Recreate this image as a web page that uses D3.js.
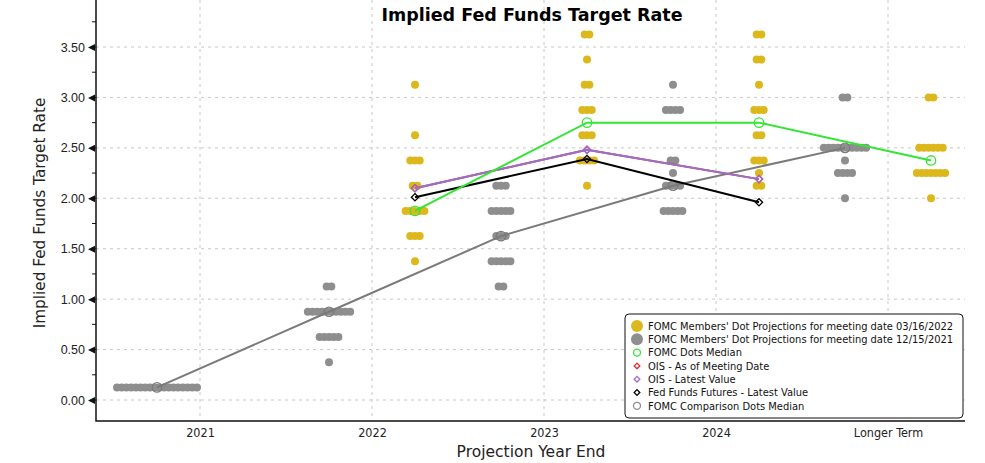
<!DOCTYPE html>
<html>
<head>
<meta charset="utf-8">
<script src="https://cdn.jsdelivr.net/npm/d3@7"></script>
<style>
  body { margin: 0; background: #fff; }
  svg { display: block; }
</style>
</head>
<body>
<div id="chart"></div>
<script>
// projection horizons on the x axis
const categories = ["2021", "2022", "2023", "2024", "Longer Term"];
const yTicks = [0, 0.5, 1, 1.5, 2, 2.5, 3, 3.5];

// dot plot rows: [horizon, rate, number of participants]
const marchDots = [
  ["2022", 3.125, 1], ["2022", 2.625, 1], ["2022", 2.375, 3], ["2022", 2.125, 2],
  ["2022", 1.875, 5], ["2022", 1.625, 3], ["2022", 1.375, 1],
  ["2023", 3.625, 2], ["2023", 3.375, 1], ["2023", 3.125, 2], ["2023", 2.875, 3],
  ["2023", 2.625, 3], ["2023", 2.375, 4], ["2023", 2.125, 1],
  ["2024", 3.625, 2], ["2024", 3.375, 2], ["2024", 3.125, 1], ["2024", 2.875, 3],
  ["2024", 2.625, 2], ["2024", 2.375, 3], ["2024", 2.25, 1], ["2024", 2.125, 2],
  ["Longer Term", 3.0, 2], ["Longer Term", 2.5, 6], ["Longer Term", 2.25, 7], ["Longer Term", 2.0, 1]
];
const decemberDots = [
  ["2021", 0.125, 18],
  ["2022", 1.125, 2], ["2022", 0.875, 10], ["2022", 0.625, 5], ["2022", 0.375, 1],
  ["2023", 2.125, 3], ["2023", 1.875, 5], ["2023", 1.625, 3], ["2023", 1.375, 5], ["2023", 1.125, 2],
  ["2024", 3.125, 1], ["2024", 2.875, 4], ["2024", 2.375, 2], ["2024", 2.25, 1],
  ["2024", 2.125, 4], ["2024", 1.875, 5],
  ["Longer Term", 3.0, 2], ["Longer Term", 2.5, 10], ["Longer Term", 2.375, 1],
  ["Longer Term", 2.25, 4], ["Longer Term", 2.0, 1]
];

// line series
const medianCats = ["2022", "2023", "2024", "Longer Term"];
const medianMarch = [1.875, 2.75, 2.75, 2.375];
const comparisonCats = ["2021", "2022", "2023", "2024", "Longer Term"];
const medianDecember = [0.125, 0.875, 1.625, 2.125, 2.5];
const marketCats = ["2022", "2023", "2024"];
const oisMeeting = [2.10, 2.48, 2.19];
const oisLatest = [2.10, 2.48, 2.19];
const futuresLatest = [2.01, 2.39, 1.96];

const legendLabels = [
  "FOMC Members' Dot Projections for meeting date 03/16/2022",
  "FOMC Members' Dot Projections for meeting date 12/15/2021",
  "FOMC Dots Median",
  "OIS - As of Meeting Date",
  "OIS - Latest Value",
  "Fed Funds Futures - Latest Value",
  "FOMC Comparison Dots Median"
];

const W = 985, H = 463;
const left = 96, right = 965, bottom = 421;
const yellow = "#dcb81c", gray = "#8e8e8e", green = "#33e633",
      purple = "#9a6fcc", red = "#d93030";

const svg = d3.select("#chart").append("svg")
    .attr("width", W).attr("height", H)
    .style("font-family", "'DejaVu Sans', sans-serif");

let x = d3.scalePoint().domain(categories).range([200, 888]);
let shift = x.step() * 0.25;
let y = d3.scaleLinear().domain([0, 3.5]).range([400, 47]);

// grid
let grid = svg.append("g").attr("stroke", "#c8c8c8").attr("stroke-dasharray", "3,4");
grid.selectAll("line.h").data(yTicks).join("line")
    .attr("x1", left).attr("x2", right)
    .attr("y1", d => y(d)).attr("y2", d => y(d));
grid.selectAll("line.v").data(categories).join("line")
    .attr("x1", d => x(d)).attr("x2", d => x(d))
    .attr("y1", 0).attr("y2", bottom);

// y axis
let yAxis = svg.append("g").attr("transform", `translate(${left - 10},0)`)
    .call(d3.axisLeft(y).tickValues(yTicks).tickFormat(d3.format(".2f")).tickSize(0).tickPadding(1));
yAxis.select(".domain").remove();
yAxis.selectAll("text").attr("font-size", 12.5).attr("fill", "#222");
yAxis.selectAll(".tick").append("path")
    .attr("d", "M2,0L9,-3.5L9,3.5Z").attr("fill", "#111");
let minor = d3.range(-0.25, 4, 0.25).filter(v => y(v) > 2 && y(v) < bottom - 2);
svg.append("g").selectAll("line").data(minor).join("line")
    .attr("x1", left - 4).attr("x2", left)
    .attr("y1", d => y(d)).attr("y2", d => y(d))
    .attr("stroke", "#111");

// x axis
let xAxis = svg.append("g").attr("transform", `translate(0,${bottom})`)
    .call(d3.axisBottom(x).tickSize(0).tickPadding(7));
xAxis.select(".domain").remove();
xAxis.selectAll("text").attr("font-size", 12.5).attr("fill", "#222")
    .style("font-family", "'DejaVu Sans Condensed', sans-serif");

svg.append("path")
    .attr("d", `M${left},0V${bottom}H${right}`)
    .attr("fill", "none").attr("stroke", "#111").attr("stroke-width", 1.5);

// dots
function expand(rows, offset) {
  let out = [];
  rows.forEach(([cat, rate, n]) => {
    for (let i = 0; i < n; i++) {
      out.push({ cx: x(cat) + offset + (i - (n - 1) / 2) * 4.7, cy: y(rate) });
    }
  });
  return out;
}
svg.append("g").selectAll("circle").data(expand(decemberDots, -shift)).join("circle")
    .attr("cx", d => d.cx).attr("cy", d => d.cy).attr("r", 4).attr("fill", gray);
svg.append("g").selectAll("circle").data(expand(marchDots, shift)).join("circle")
    .attr("cx", d => d.cx).attr("cy", d => d.cy).attr("r", 4).attr("fill", yellow);

// lines
function series(cats, vals, offset, color, width, marker) {
  let pts = cats.map((c, i) => [x(c) + offset, y(vals[i])]);
  svg.append("path").datum(pts)
      .attr("d", d3.line())
      .attr("fill", "none").attr("stroke", color).attr("stroke-width", width);
  let sym = marker === "circle" ? d3.symbol(d3.symbolCircle, 70) : d3.symbol(d3.symbolSquare, 26);
  svg.append("g").selectAll("path").data(pts).join("path")
      .attr("d", sym)
      .attr("transform", d => `translate(${d[0]},${d[1]})` + (marker === "circle" ? "" : " rotate(45)"))
      .attr("fill", "none").attr("stroke", color).attr("stroke-width", 1.3);
}
series(comparisonCats, medianDecember, -shift, "#7a7a7a", 2, "circle");
series(marketCats, futuresLatest, shift, "#000", 2, "diamond");
series(marketCats, oisMeeting, shift, red, 2, "diamond");
series(marketCats, oisLatest, shift, purple, 2, "diamond");
series(medianCats, medianMarch, shift, green, 2, "circle");

// title and axis titles
svg.append("text").attr("x", 532).attr("y", 21).attr("text-anchor", "middle")
    .attr("font-size", 17.5).attr("font-weight", "bold").text("Implied Fed Funds Target Rate");
svg.append("text").attr("transform", "translate(45,213) rotate(-90)")
    .attr("text-anchor", "middle").attr("font-size", 15.3).attr("fill", "#222")
    .text("Implied Fed Funds Target Rate");
svg.append("text").attr("x", 531).attr("y", 457).attr("text-anchor", "middle")
    .attr("font-size", 15.5).attr("fill", "#222").text("Projection Year End");

// legend
let lg = svg.append("g").attr("transform", "translate(625,314)");
lg.append("rect").attr("width", 338).attr("height", 104).attr("rx", 4)
    .attr("fill", "#fff").attr("stroke", "#111");
let markers = [
  { type: "circle", r: 6, fill: yellow, stroke: "none" },
  { type: "circle", r: 6, fill: gray, stroke: "none" },
  { type: "circle", r: 3.5, fill: "none", stroke: green },
  { type: "diamond", fill: "none", stroke: red },
  { type: "diamond", fill: "none", stroke: purple },
  { type: "diamond", fill: "none", stroke: "#000" },
  { type: "circle", r: 3.5, fill: "none", stroke: gray }
];
let rows = lg.selectAll("g.row").data(legendLabels).join("g")
    .attr("transform", (d, i) => `translate(0,${12 + i * 13.3})`);
rows.each(function (d, i) {
  let g = d3.select(this), m = markers[i];
  if (m.type === "circle") {
    g.append("circle").attr("cx", 12).attr("r", m.r).attr("fill", m.fill)
        .attr("stroke", m.stroke).attr("stroke-width", 1.3);
  } else {
    g.append("path").attr("d", d3.symbol(d3.symbolSquare, 16))
        .attr("transform", "translate(12,0) rotate(45)")
        .attr("fill", "none").attr("stroke", m.stroke).attr("stroke-width", 1.3);
  }
  g.append("text").attr("x", 23).attr("dy", "0.35em").attr("font-size", 11)
      .style("font-family", "'DejaVu Sans Condensed', sans-serif")
      .attr("fill", "#111").text(d);
});
</script>
</body>
</html>
